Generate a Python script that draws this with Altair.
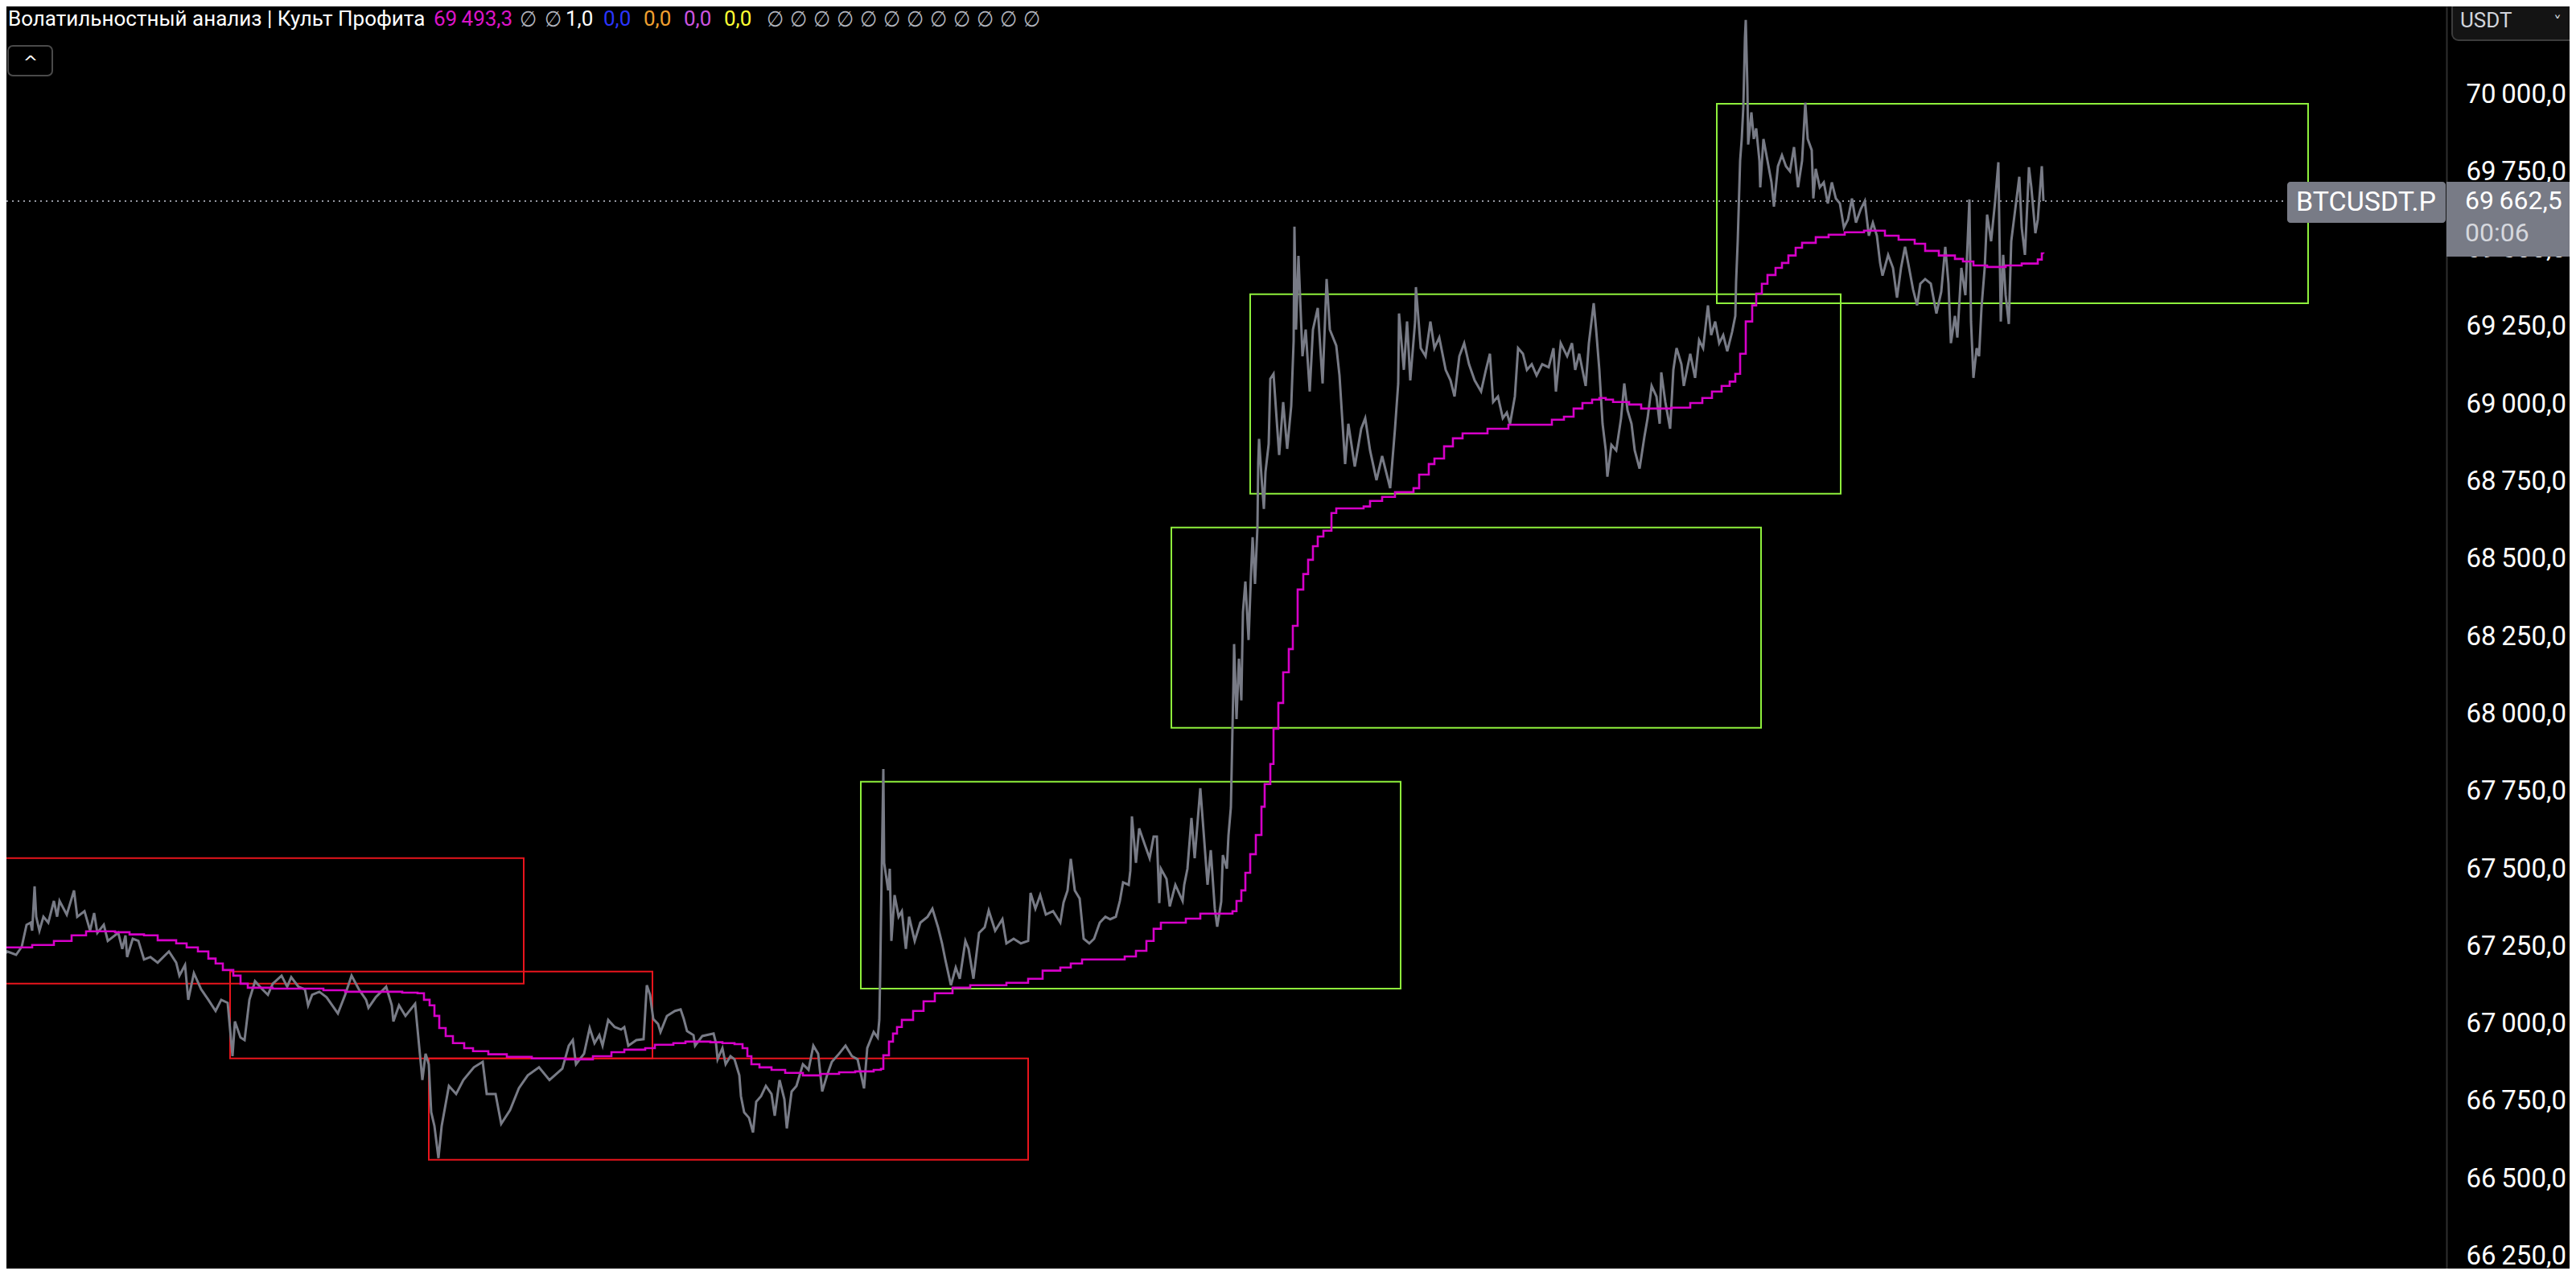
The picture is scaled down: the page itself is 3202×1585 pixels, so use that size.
import altair as alt
import pandas as pd

# ---------------- data ----------------
# bar index (time order) and last price of BTCUSDT.P
bar = [0, 2, 9, 20, 27, 33, 38, 40, 43, 45, 49, 54, 60, 67, 71, 74, 83, 92, 96, 105, 112, 117, 121, 129, 134, 147, 152, 156, 158, 165, 172, 179, 187, 196, 210, 219, 223, 230, 234, 241, 250, 259, 268, 275, 283, 289, 292, 299, 304, 310, 317, 326, 333, 339, 350, 357, 362, 371, 379, 383, 388, 397, 406, 420, 429, 437, 446, 455, 458, 467, 480, 487, 489, 496, 504, 516, 520, 525, 529, 533, 536, 540, 545, 549, 558, 567, 576, 589, 600, 605, 616, 623, 634, 645, 656, 670, 683, 699,
       707, 712, 716, 726, 733, 739, 745, 749, 756, 764, 772, 776, 781, 791, 800, 804, 808, 812, 818, 821, 829, 839, 846, 850, 854, 862, 864, 873, 887, 890, 892, 898, 902, 908, 913, 919, 921, 925, 931, 936, 940, 946, 952, 959, 963, 969, 975, 978, 984, 990, 998, 1005, 1011, 1017, 1022, 1028, 1034, 1043, 1051, 1059, 1066, 1074, 1078, 1086, 1091, 1093, 1094, 1095, 1098, 1099,
       1104, 1106, 1108, 1112, 1117, 1121, 1126, 1130, 1137, 1144, 1153, 1159, 1166, 1171, 1175, 1182, 1188, 1193, 1200, 1204, 1210, 1217, 1224, 1229, 1237, 1246, 1251, 1260, 1269, 1278, 1281, 1287, 1293, 1300, 1309, 1318, 1322, 1327, 1331, 1336, 1342, 1347, 1354, 1360, 1367, 1374, 1380, 1387, 1392, 1396, 1403, 1405, 1407, 1412, 1416, 1423, 1429, 1434, 1438, 1441, 1443, 1450, 1454,
       1461, 1470, 1472, 1476, 1481, 1485, 1492, 1496, 1501, 1505, 1510, 1513, 1518, 1520, 1525, 1527, 1530, 1532, 1533, 1534, 1537, 1540, 1543, 1545, 1548, 1552, 1555, 1557, 1560, 1563, 1564, 1565, 1568, 1571, 1573, 1577, 1579, 1583, 1587, 1590, 1595, 1600, 1605, 1608, 1609, 1611, 1614, 1619, 1623, 1628, 1632, 1638, 1644, 1649, 1653, 1661, 1665, 1672, 1676, 1684, 1692, 1697, 1703,
       1711, 1718, 1728, 1734, 1738, 1739, 1745, 1749, 1753, 1759, 1760, 1766, 1772, 1778, 1783, 1789, 1797, 1803, 1808, 1814, 1820, 1826, 1833, 1841, 1847, 1852, 1856, 1862, 1868, 1873, 1877, 1883, 1887, 1893, 1898, 1904, 1910, 1917, 1925, 1931, 1934, 1940, 1948, 1954, 1958, 1963, 1971, 1975, 1981, 1984, 1988, 1992, 1996, 1998, 2003, 2009, 2015, 2019, 2023, 2028, 2032, 2038, 2044,
       2048, 2053, 2059, 2063, 2065, 2070, 2076, 2080, 2084, 2090, 2093, 2101, 2107, 2112, 2117, 2123, 2127, 2132, 2137, 2142, 2147, 2153, 2157, 2158, 2160, 2162, 2163, 2165, 2167, 2169, 2170, 2172, 2173, 2177, 2180, 2183, 2187, 2188, 2192, 2197, 2202, 2205, 2210, 2215, 2220, 2225, 2230, 2235, 2240, 2244, 2247, 2252, 2254, 2257, 2262, 2267, 2272, 2277, 2282, 2287, 2292, 2297, 2302,
       2307, 2313, 2318, 2323, 2328, 2333, 2337, 2340, 2347, 2353, 2358, 2363, 2368, 2373, 2378, 2383, 2387, 2393, 2400, 2407, 2413, 2418, 2422, 2425, 2430, 2433, 2438, 2443, 2448, 2450, 2453, 2457, 2460, 2463, 2467, 2470, 2475, 2480, 2484, 2487, 2490, 2493, 2497, 2500, 2505, 2510, 2513, 2517, 2520, 2522, 2525, 2530, 2533, 2538, 2540]

close = [67184, 67223, 67241, 67230, 67256, 67327, 67334, 67308, 67451, 67353, 67308, 67353, 67334, 67404, 67353, 67404, 67360, 67438, 67353, 67371, 67308, 67365, 67301, 67327, 67275, 67301, 67249, 67293, 67223, 67282, 67275, 67215, 67223, 67205, 67241, 67205, 67163, 67197, 67085, 67171, 67119, 67085, 67049, 67085, 67075, 66903, 67015, 66963, 66955, 67085, 67145, 67119, 67101, 67137, 67163, 67127, 67158, 67127, 67119, 67067, 67101, 67111, 67093, 67041, 67101, 67163, 67119, 67085, 67059, 67093, 67127, 67067, 67015, 67067, 67033, 67072, 66963, 66826, 66911, 66877, 66722, 66678, 66574, 66678, 66807, 66781, 66826, 66867, 66885, 66781, 66781, 66685, 66729, 66800, 66841, 66867, 66826, 66863,
         66937, 66955, 66877, 66911, 66994, 66945, 66971, 66937, 67020, 66997, 66989, 66997, 66937, 66955, 66958, 67132, 67101, 67023, 67007, 66981, 67033, 67049, 67054, 67023, 66984, 66971, 66937, 66968, 66976, 66945, 66893, 66929, 66877, 66903, 66893, 66841, 66774, 66722, 66704, 66657, 66756, 66774, 66807, 66781, 66711, 66826, 66764, 66670, 66789, 66807, 66877, 66859, 66937, 66911, 66789, 66841, 66885, 66911, 66937, 66903, 66893, 66799, 66929, 66981, 66963, 67020, 67153, 67334, 67830, 67527,
         67438, 67508, 67275, 67423, 67353, 67371, 67249, 67353, 67275, 67334, 67353, 67379, 67319, 67267, 67215, 67132, 67189, 67153, 67275, 67249, 67153, 67301, 67319, 67373, 67308, 67345, 67267, 67282, 67267, 67275, 67430, 67379, 67423, 67360, 67371, 67334, 67399, 67438, 67540, 67438, 67412, 67282, 67267, 67282, 67334, 67353, 67345, 67353, 67404, 67464, 67456, 67501, 67677, 67527, 67638, 67586, 67542, 67612, 67612, 67397, 67508, 67475, 67386,
         67456, 67404, 67456, 67508, 67672, 67542, 67768, 67630, 67456, 67568, 67379, 67321, 67402, 67552, 67508, 67615, 67706, 67960, 68082, 68233, 67991, 68186, 68051, 68336, 68435, 68246, 68458, 68578, 68427, 68609, 68819, 68895, 68775, 68669, 68788, 68879, 69089, 69105, 68954, 68843, 69014, 68863, 69001, 69211, 69580, 69248, 69486, 69162, 69248, 69048, 69248, 69318, 69074, 69411, 69248, 69196, 69100, 68814, 68944, 68806, 68928, 68962, 68858,
         68762, 68840, 68736, 68928, 69074, 69300, 69118, 69274, 69084, 69274, 69385, 69188, 69162, 69274, 69188, 69222, 69118, 69084, 69032, 69162, 69204, 69136, 69084, 69048, 69118, 69170, 69014, 69032, 68962, 68980, 68944, 69032, 69188, 69170, 69118, 69136, 69100, 69136, 69126, 69188, 69048, 69204, 69162, 69204, 69118, 69170, 69066, 69204, 69333, 69248, 69118, 68944, 68858, 68773, 68876, 68858, 68962, 69074, 68988, 68944, 68858, 68799, 68902,
         68962, 69066, 69032, 68944, 69110, 69014, 68928, 69118, 69188, 69136, 69066, 69170, 69092, 69214, 69188, 69326, 69230, 69274, 69204, 69230, 69178, 69240, 69292, 69403, 69533, 69707, 69793, 69863, 69967, 70190, 70247, 70034, 69845, 69949, 69863, 69897, 69793, 69707, 69863, 69793, 69723, 69645, 69775, 69811, 69775, 69759, 69837, 69707, 69793, 69980, 69863, 69827, 69671, 69767, 69707, 69723, 69655, 69723, 69671, 69655, 69577, 69603, 69671,
         69593, 69637, 69663, 69551, 69593, 69551, 69463, 69422, 69489, 69447, 69351, 69447, 69515, 69447, 69377, 69326, 69396, 69411, 69396, 69300, 69370, 69515, 69396, 69204, 69292, 69222, 69447, 69359, 69668, 69274, 69092, 69188, 69162, 69318, 69447, 69619, 69533, 69663, 69788, 69274, 69489, 69359, 69266, 69533, 69637, 69741, 69577, 69489, 69655, 69772, 69707, 69559, 69603, 69775, 69662.5]

# stepped volume-weighted average line (magenta)
vwap_bar = [0, 31, 40, 67, 89, 107, 125, 143, 161, 179, 196, 219, 232, 246, 259, 268, 277, 290, 299, 308, 339, 371, 402, 429, 455, 491, 500, 519, 527, 534, 540, 546, 554, 563, 577, 588, 607, 630, 661, 703, 722, 737, 760, 776, 802, 814, 837, 852, 883, 898, 913, 923, 929, 934, 944, 959, 976, 998, 1020, 1043, 1063, 1086, 1095, 1098,
            1105, 1110, 1115, 1121, 1135, 1148, 1162, 1184, 1206, 1251, 1278, 1296, 1318, 1331, 1345, 1398, 1412, 1425, 1434, 1443, 1474, 1492, 1532, 1537, 1543, 1548, 1554, 1561, 1568, 1572, 1579, 1583, 1589, 1595, 1602, 1607, 1613, 1620, 1626, 1632, 1638, 1645, 1655, 1661, 1695, 1703, 1718, 1734, 1757, 1764, 1776, 1783, 1795, 1806, 1818, 1849, 1875, 1929, 1944, 1956, 1967, 1979, 1988, 1996,
            2005, 2025, 2040, 2063, 2078, 2101, 2116, 2128, 2140, 2150, 2157, 2163, 2170, 2178, 2183, 2190, 2197, 2207, 2215, 2223, 2232, 2240, 2257, 2273, 2293, 2317, 2333, 2343, 2360, 2380, 2393, 2410, 2430, 2440, 2453, 2470, 2493, 2513, 2533, 2538, 2540]
vwap = [67254, 67254, 67262, 67275, 67293, 67306, 67306, 67303, 67296, 67293, 67277, 67267, 67254, 67241, 67218, 67202, 67181, 67163, 67137, 67124, 67121, 67121, 67116, 67111, 67111, 67111, 67108, 67106, 67085, 67067, 67033, 66994, 66968, 66945, 66929, 66919, 66909, 66901, 66896, 66893, 66893, 66903, 66916, 66924, 66929, 66940, 66945, 66950, 66948, 66945, 66942, 66929, 66903, 66877, 66867, 66859, 66849, 66841, 66846, 66851, 66854, 66859, 66862, 66906,
        66950, 66976, 66997, 67020, 67049, 67080, 67106, 67124, 67132, 67140, 67153, 67179, 67189, 67202, 67215, 67225, 67243, 67275, 67314, 67334, 67347, 67363, 67371, 67404, 67438, 67495, 67555, 67617, 67708, 67781, 67846, 67960, 68043, 68142, 68217, 68292, 68409, 68459, 68505, 68549, 68580, 68599, 68656, 68671, 68677, 68695, 68708, 68723, 68736, 68780, 68814, 68832, 68871, 68897, 68913, 68928, 68941, 68957, 68967, 68993, 69011, 69022, 69027, 69022,
        69014, 69006, 68993, 68993, 68996, 69011, 69027, 69048, 69066, 69080, 69105, 69170, 69274, 69326, 69364, 69396, 69424, 69447, 69463, 69487, 69512, 69528, 69546, 69554, 69562, 69567, 69567, 69551, 69538, 69525, 69502, 69487, 69476, 69468, 69455, 69450, 69455, 69461, 69474, 69494, 69493.3]

# volatility zones: start bar, end bar, low, high, kind
zone_start = [-20, 286, 533, 1070, 1456, 1554, 2134]
zone_end = [651, 811, 1278, 1741, 2189, 2288, 2869]
zone_low = [67137, 66896, 66569, 67121, 67963, 68718, 69333]
zone_high = [67542, 67176, 66896, 67789, 68609, 69362, 69977]
zone_kind = ["down", "down", "down", "up", "up", "up", "up"]

price_ticks = [66250, 66500, 66750, 67000, 67250, 67500, 67750, 68000, 68250, 68500,
               68750, 69000, 69250, 69500, 69750, 70000]

indicator_title = "Волатильностный анализ | Культ Профита"
indicator_values = ["1,0", "0,0", "0,0", "0,0", "0,0"]
symbol = "BTCUSDT.P"
countdown = "00:06"
currency = "USDT"

# ---------------- styling ----------------
W, H = 3033, 1569
BG = "#000000"
GRAY = "#787b86"
MAGENTA = "#d600c8"
ZONE_COLORS = {"down": "#e8141c", "up": "#8ef03c"}
FONT = "Roboto, DejaVu Sans, sans-serif"
SYMFONT = "DejaVu Sans Condensed, DejaVu Sans"
THIN = "\u2009"


def fmt(v):
    return f"{v:,.1f}".replace(",", THIN).replace(".", ",")


xscale = alt.Scale(domain=[8, 3041], nice=False, zero=False)
yscale = alt.Scale(domain=[66217.6, 70290.8], nice=False, zero=False)

label_expr = f"replace(replace(format(datum.value, ',.1f'), ',', '{THIN}'), '.', ',')"
y_axis = alt.Axis(
    orient="right", values=price_ticks, labelExpr=label_expr, labelColor="#ffffff",
    labelFontSize=33, labelFont=FONT, ticks=False, grid=False, domain=True,
    domainColor="#2f2f2f", domainWidth=2, labelPadding=24, labelAlign="left",
    labelBaseline="middle", labelOverlap=False, labelFlush=False, labelOffset=-3, title=None)

price_df = pd.DataFrame({"bar": bar, "price": close})
vwap_df = pd.DataFrame({"bar": vwap_bar, "price": vwap})
zone_df = pd.DataFrame({"x0": zone_start, "x1": zone_end, "price": zone_low, "hi": zone_high,
                        "col": [ZONE_COLORS[k] for k in zone_kind]})
last_df = pd.DataFrame({"price": [close[-1]]})
one = pd.DataFrame({"a": [0]})

zones = alt.Chart(zone_df).mark_rect(filled=False, strokeWidth=2, clip=True).encode(
    x=alt.X("x0:Q", scale=xscale, axis=None),
    x2="x1:Q",
    y=alt.Y("price:Q", scale=yscale, axis=y_axis),
    y2="hi:Q",
    stroke=alt.Color("col:N", scale=None),
)

last_line = alt.Chart(last_df).mark_rule(color="#9598a1", strokeWidth=2, strokeDash=[2, 5]).encode(
    y=alt.Y("price:Q", scale=yscale, axis=y_axis),
    x=alt.value(0),
    x2=alt.value(2835),
)

price_line = alt.Chart(price_df).mark_line(color=GRAY, strokeWidth=3, clip=True).encode(
    x=alt.X("bar:Q", scale=xscale, axis=None),
    y=alt.Y("price:Q", scale=yscale, axis=y_axis),
)

vwap_line = alt.Chart(vwap_df).mark_line(color=MAGENTA, strokeWidth=2.6, interpolate="step-after",
                                         clip=True).encode(
    x=alt.X("bar:Q", scale=xscale, axis=None),
    y=alt.Y("price:Q", scale=yscale, axis=y_axis),
)


def box(x0, x1, y0, y1, fill, stroke=None, radius=0, sw=2):
    kw = dict(fill=fill, cornerRadius=radius)
    if stroke:
        kw.update(stroke=stroke, strokeWidth=sw)
    return alt.Chart(one).mark_rect(**kw).encode(
        x=alt.value(x0), x2=alt.value(x1), y=alt.value(y0), y2=alt.value(y1))


def txt(s, x, y, color, size, align="left", font=FONT):
    return alt.Chart(one).mark_text(text=s, align=align, baseline="middle", font=font,
                                    fontSize=size, color=color).encode(
        x=alt.value(x), y=alt.value(y))


chrome = [
    # symbol label on the last-price line
    box(2835, 3032, 218, 269, GRAY, radius=4),
    txt(symbol, 2846, 244, "#ffffff", 34),
    # price label on the axis
    box(3033, 3200, 218, 311, GRAY),
    txt(fmt(close[-1]), 3056, 242, "#ffffff", 32),
    txt(countdown, 3056, 282, "#d6d8de", 32),
    # currency selector
    box(3040, 3210, -6, 42, "#141414", stroke="#3c3c3c", radius=8),
    txt(currency, 3050, 18, "#d1d4dc", 26),
    txt("˅", 3166, 20, "#d1d4dc", 20, font="DejaVu Sans"),
    # collapse button
    box(2, 57, 49, 86, BG, stroke="#4a4a4a", radius=6),
    txt("^", 30, 70, "#ffffff", 22, align="center", font="DejaVu Sans"),
]

# indicator legend row
legend_items = [(indicator_title, "#ffffff", 2, FONT, 26, 16),
                (fmt(vwap[-1]), "#dc14c8", 531, FONT, 26, 16),
                ("∅", "#b2b5be", 638, SYMFONT, 27, 17), ("∅", "#b2b5be", 669, SYMFONT, 27, 17),
                (indicator_values[0], "#ffffff", 695, FONT, 26, 16),
                (indicator_values[1], "#2a35ff", 742, FONT, 26, 16),
                (indicator_values[2], "#f0a030", 792, FONT, 26, 16),
                (indicator_values[3], "#cc55e0", 842, FONT, 26, 16),
                (indicator_values[4], "#ffff33", 892, FONT, 26, 16)]
for k in range(12):
    legend_items.append(("∅", "#b2b5be", 945 + 29 * k, SYMFONT, 27, 17))
legend = [txt(s, x, y, c, sz, font=f) for s, c, x, f, sz, y in legend_items]

chart = alt.layer(zones, last_line, price_line, vwap_line, *chrome, *legend).properties(
    width=W, height=H,
    autosize=alt.AutoSizeParams(type="none"),
    padding={"left": 0, "top": 0, "right": 153, "bottom": 0},
    background=BG,
).configure_view(strokeWidth=0)

chart.save("out.html", embed_options={"renderer": "svg", "actions": False})
